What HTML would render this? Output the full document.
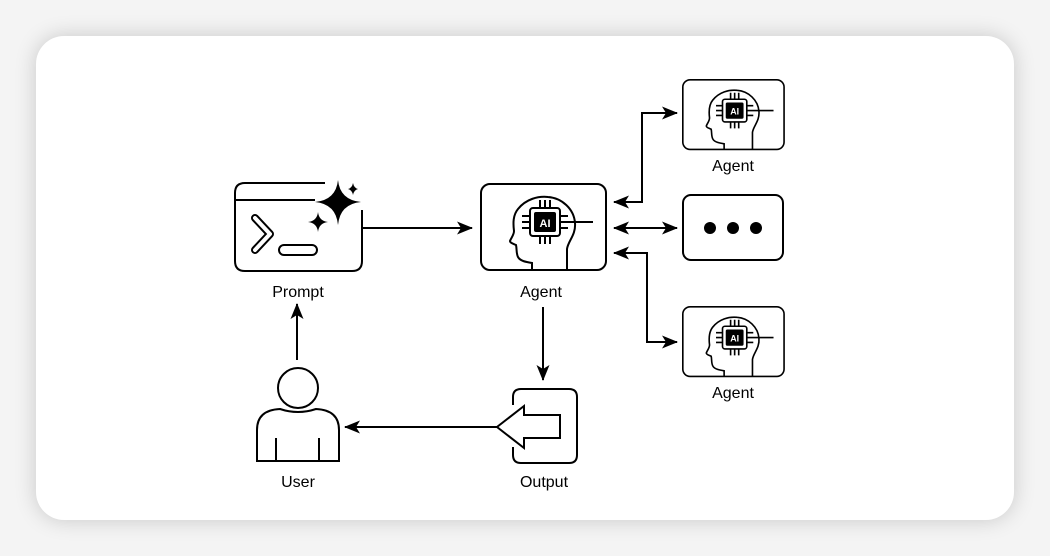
<!DOCTYPE html>
<html><head><meta charset="utf-8"><style>
html,body{margin:0;padding:0;background:#f4f4f4;}
body{width:1050px;height:556px;position:relative;overflow:hidden;font-family:"Liberation Sans",sans-serif;}
.card{position:absolute;left:36px;top:36px;width:978px;height:484px;background:#fff;border-radius:28px;box-shadow:0 0 22px rgba(0,0,0,0.18);}
svg{position:absolute;left:0;top:0;}
</style></head><body>
<div class="card"></div>
<svg width="1050" height="556" viewBox="0 0 1050 556">
<defs>
<marker id="ah" markerWidth="16" markerHeight="13" refX="15" refY="6.5" orient="auto" markerUnits="userSpaceOnUse">
<path d="M0,0 L16,6.5 L0,13 L4,6.5 Z" fill="#000"/></marker>
<marker id="as" markerWidth="16" markerHeight="13" refX="1" refY="6.5" orient="auto" markerUnits="userSpaceOnUse">
<path d="M16,0 L0,6.5 L16,13 L12,6.5 Z" fill="#000"/></marker>
<g id="agent" fill="none" stroke="#000" stroke-width="2">
<rect x="1" y="1" width="125" height="86" rx="9"/>
<path d="M52,87 L52,80 C46,79 40,78 38,74 C36,70 37,66 36,62 C34,61 30,60 30,58 C31,55 34,52 34,48 C33,40 33,32 38,26 C46,16 58,13 68,14 C82,15 94,26 95,40 C96,52 88,58 87,66 L87,87"/>
<rect x="50" y="25" width="30" height="28" rx="3"/>
<rect x="55" y="30" width="20" height="18" rx="1" fill="#000"/>
<path d="M60,17V25M65,17V25M70,17V25M60,53V61M65,53V61M70,53V61M42,33H50M42,39H50M42,45H50M80,33H88M80,45H88M80,39H113"/>
<text x="65" y="44" font-size="11" font-weight="bold" fill="#fff" stroke="none" text-anchor="middle" font-family="Liberation Sans,sans-serif">AI</text>
</g>
</defs>

<!-- Prompt -->
<g fill="none" stroke="#000" stroke-width="2">
<path d="M325,183 H245 Q235,183 235,193 V261 Q235,271 245,271 H352 Q362,271 362,261 V210"/>
<path d="M235,200 H315"/>
<path d="M255,218 L270,234 L255,250" stroke-width="8" stroke-linecap="round" stroke-linejoin="round"/>
<path d="M255,218 L270,234 L255,250" stroke="#fff" stroke-width="4" stroke-linecap="round" stroke-linejoin="round"/>
<rect x="279" y="245" width="38" height="10" rx="5"/>
</g>
<path d="M338,180 Q340,200 361,202 Q340,204 338,225 Q336,204 315,202 Q336,200 338,180 Z" fill="#000"/>
<path d="M318,212 Q319,221 328,222 Q319,223 318,232 Q317,223 308,222 Q317,221 318,212 Z" fill="#000"/>
<path d="M353,183 Q354,188 358,189 Q354,190 353,195 Q352,190 348,189 Q352,188 353,183 Z" fill="#000"/>
<text x="298" y="297" font-size="16" text-anchor="middle">Prompt</text>

<!-- Center agent -->
<use href="#agent" transform="translate(480,183)"/>
<text x="541" y="297" font-size="16" text-anchor="middle">Agent</text>

<!-- right agents -->
<use href="#agent" transform="translate(682,79) scale(0.81)"/>
<text x="733" y="171" font-size="16" text-anchor="middle">Agent</text>
<rect x="683" y="195" width="100" height="65" rx="8" fill="none" stroke="#000" stroke-width="2"/>
<circle cx="710" cy="228" r="6"/><circle cx="733" cy="228" r="6"/><circle cx="756" cy="228" r="6"/>
<use href="#agent" transform="translate(682,306) scale(0.81)"/>
<text x="733" y="398" font-size="16" text-anchor="middle">Agent</text>

<!-- connectors -->
<g fill="none" stroke="#000" stroke-width="2">
<path d="M362,228 H472" marker-end="url(#ah)"/>
<path d="M614,202 H642 V113 H677" marker-start="url(#as)" marker-end="url(#ah)"/>
<path d="M614,228 H677" marker-start="url(#as)" marker-end="url(#ah)"/>
<path d="M614,253 H647 V342 H677" marker-start="url(#as)" marker-end="url(#ah)"/>
<path d="M543,307 V380" marker-end="url(#ah)"/>
<path d="M497,427 H345" marker-end="url(#ah)"/>
<path d="M297,360 V304" marker-end="url(#ah)"/>
</g>

<!-- Output -->
<g fill="none" stroke="#000" stroke-width="2">
<path d="M513,405 V397 Q513,389 521,389 H569 Q577,389 577,397 V455 Q577,463 569,463 H521 Q513,463 513,455 V447"/>
<path d="M560,415 H524 V406 L497,427 L524,448 V438 H560 Z" fill="#fff"/>
</g>
<text x="544" y="487" font-size="16" text-anchor="middle">Output</text>

<!-- User -->
<g fill="none" stroke="#000" stroke-width="2">
<circle cx="298" cy="388" r="20"/>
<path d="M257,461 V430 Q257,410 280,409 Q298,415 316,409 Q339,410 339,430 V461 Z"/>
<path d="M276,438 V461 M319,438 V461"/>
</g>
<text x="298" y="487" font-size="16" text-anchor="middle">User</text>
</svg>
</body></html>
